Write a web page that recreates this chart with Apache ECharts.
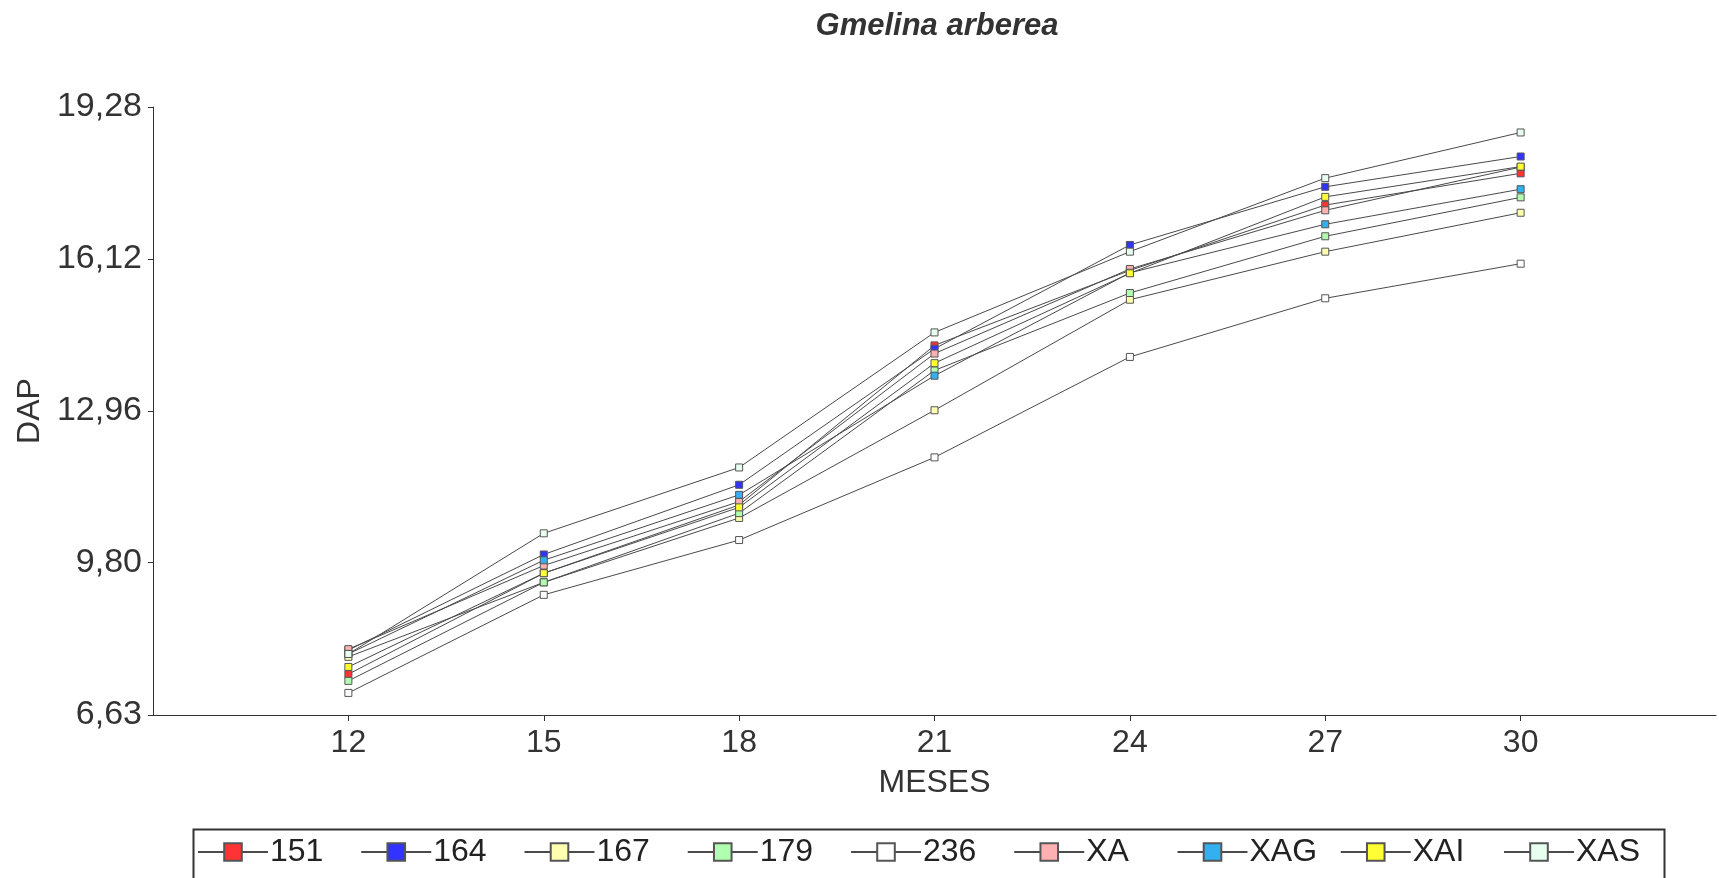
<!DOCTYPE html>
<html>
<head>
<meta charset="utf-8">
<script src="https://cdn.jsdelivr.net/npm/echarts@6/dist/echarts.min.js"></script>
<style>
html,body{margin:0;padding:0;background:#fff;}
#chart{width:1719px;height:878px;}
</style>
</head>
<body>
<div id="chart"></div>
<script>
var months = [12, 15, 18, 21, 24, 27, 30];
var yTickLabels = ['6,63', '9,80', '12,96', '16,12', '19,28'];
var seriesNames = ['151', '164', '167', '179', '236', 'XA', 'XAG', 'XAI', 'XAS'];
var s151 = [7.48, 9.58, 11.00, 14.32, 15.88, 17.24, 17.90];
var s164 = [7.98, 9.97, 11.42, 14.25, 16.41, 17.62, 18.25];
var s167 = [7.84, 9.39, 10.73, 12.97, 15.27, 16.27, 17.08];
var s179 = [7.34, 9.39, 10.83, 13.80, 15.41, 16.59, 17.40];
var s236 = [7.09, 9.13, 10.27, 11.99, 14.08, 15.30, 16.02];
var sXA  = [8.00, 9.74, 11.07, 14.15, 15.91, 17.13, 18.03];
var sXAG = [7.90, 9.85, 11.21, 13.69, 15.83, 16.84, 17.57];
var sXAI = [7.63, 9.58, 10.95, 13.95, 15.82, 17.41, 18.04];
var sXAS = [7.90, 10.41, 11.78, 14.59, 16.27, 17.80, 18.75];
var fillColors = ['#ff3333', '#3333ff', '#ffffb0', '#b0ffb0', '#ffffff', '#ffb0b0', '#33b0f0', '#ffff33', '#e8fff0'];

var allValues = [s151, s164, s167, s179, s236, sXA, sXAG, sXAI, sXAS];
var yTickValues = yTickLabels.map(function (s) { return parseFloat(s.replace(',', '.')); });

var normal = "'Liberation Sans', Arial, sans-serif";

var series = seriesNames.map(function (name, i) {
  return {
    name: name,
    type: 'line',
    data: months.map(function (m, j) { return [m, allValues[i][j]]; }),
    symbol: 'rect',
    symbolSize: 7,
    lineStyle: { color: '#4a4a4a', width: 1 },
    itemStyle: { color: fillColors[i], borderColor: '#555', borderWidth: 1 },
    emphasis: { disabled: true },
    animation: false
  };
});

// one legend per item so the items sit on a fixed pitch like the reference
var legendStart = 197, legendPitch = 163.25;
var legends = seriesNames.map(function (name, i) {
  return {
    data: [name],
    left: legendStart + i * legendPitch,
    top: 836,
    padding: 0,
    itemWidth: 70,
    itemHeight: 22,
    selectedMode: false,
    textStyle: { fontFamily: normal, fontSize: 32, color: '#222', padding: [0, 0, 0, -3] }
  };
});

var chart = echarts.init(document.getElementById('chart'));
chart.setOption({
  backgroundColor: '#fff',
  animation: false,
  title: {
    text: 'Gmelina arberea',
    left: 932,
    textAlign: 'center',
    top: 6,
    textStyle: { fontFamily: normal, fontSize: 31, fontStyle: 'italic', fontWeight: 'bold', color: '#333' }
  },
  graphic: [{
    type: 'rect',
    left: 191,
    top: 827,
    shape: { width: 1471, height: 80 },
    style: { fill: 'none', stroke: '#333', lineWidth: 2 },
    silent: true
  }],
  grid: { left: 153, right: 3, top: 107, bottom: 163, containLabel: false },
  xAxis: {
    type: 'value',
    min: 9, max: 33,
    name: 'MESES',
    nameLocation: 'middle',
    nameGap: 52,
    nameTextStyle: { fontFamily: normal, fontSize: 32, color: '#333' },
    axisLine: { lineStyle: { color: '#333', width: 1 } },
    axisTick: { show: true, length: 6, customValues: months, lineStyle: { color: '#333' } },
    axisLabel: { customValues: months, fontFamily: normal, fontSize: 32, color: '#333', margin: 12 },
    splitLine: { show: false }
  },
  yAxis: {
    type: 'value',
    min: yTickValues[0], max: yTickValues[yTickValues.length - 1],
    name: 'DAP',
    nameLocation: 'middle',
    nameGap: 99,
    nameTextStyle: { fontFamily: normal, fontSize: 32, color: '#333' },
    axisLine: { show: true, lineStyle: { color: '#333', width: 1 } },
    axisTick: { show: true, length: 5, customValues: yTickValues, lineStyle: { color: '#333' } },
    axisLabel: {
      customValues: yTickValues,
      fontFamily: normal, fontSize: 34, color: '#333', margin: 11,
      formatter: function (v) {
        var best = 0, d = Infinity;
        yTickValues.forEach(function (t, k) { if (Math.abs(t - v) < d) { d = Math.abs(t - v); best = k; } });
        return yTickLabels[best];
      }
    },
    splitLine: { show: false }
  },
  legend: legends,
  series: series
});
</script>
</body>
</html>
